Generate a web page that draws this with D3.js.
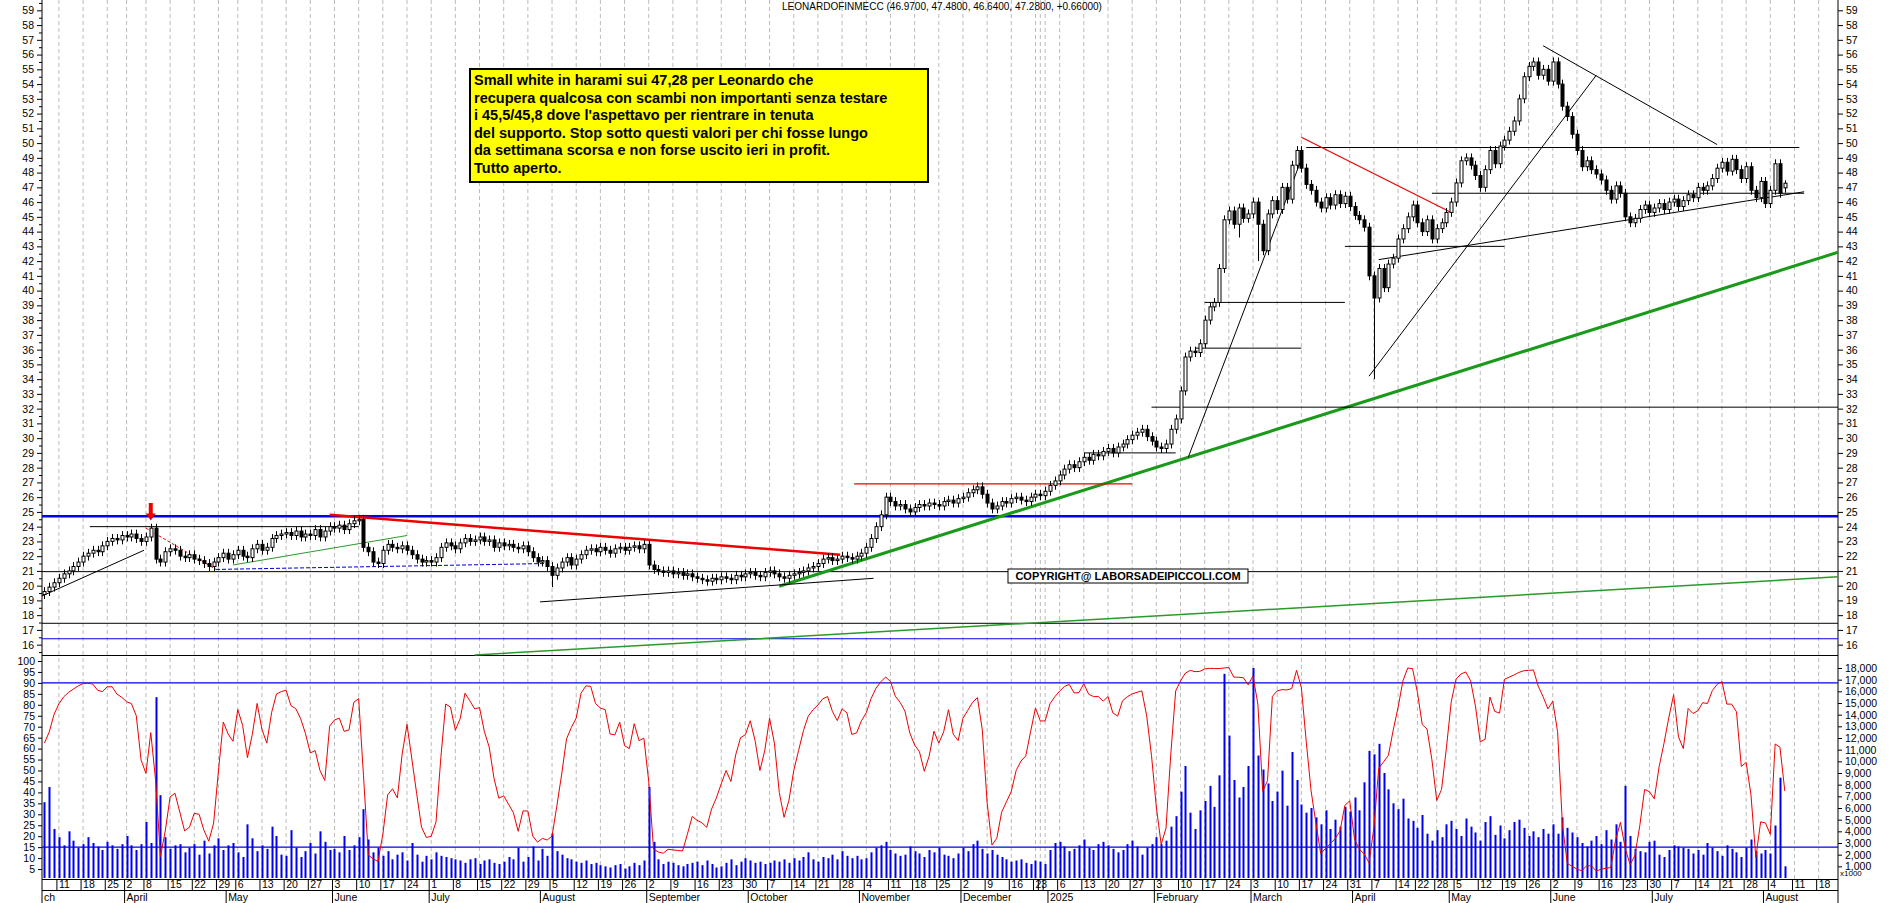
<!DOCTYPE html>
<html><head><meta charset="utf-8">
<script src="https://d3js.org/d3.v7.min.js"></script>
<style>body{margin:0;background:#fff}svg{display:block;font-family:Arial,"Liberation Sans",sans-serif}</style>
</head><body><svg id="c" width="1890" height="903"></svg>
<script>
const closeMar24=[19.6,19.9,20.2,20.5,20.8,21.0,21.3,21.6,22.0,22.2,22.4,22.3,22.7,23.0,23.2,23.1,23.4];
const closeApr24=[23.3,23.5,23.2,23.0,23.3,23.9,21.8,21.6,22.3,22.5,22.4,22.0,21.9,22.1,21.8,21.7,21.5,21.3,21.6,21.9,22.2];
const closeMay24=[21.8,22.1,22.4,22.0,21.9,22.5,22.8,22.4,22.6,23.2,23.4,23.5,23.6,23.4,23.7,23.3,23.5,23.4,23.8,23.3,23.7,24.0];
const closeJun24=[23.9,24.1,23.8,24.2,24.4,24.5,22.6,22.3,21.6,21.5,22.4,22.8,22.6,22.5,22.7,22.4,22.1,21.8,21.6,21.7];
const closeJul24=[21.6,21.9,22.6,22.9,22.7,22.5,22.9,23.2,23.0,23.1,23.3,23.0,23.1,22.6,22.9,22.7,22.8,22.6,22.5,22.7,22.3,21.9,21.6];
const closeAug24=[21.7,21.3,20.7,21.2,21.6,21.9,21.4,21.8,22.1,22.4,22.5,22.3,22.6,22.4,22.2,22.5,22.6,22.4,22.6,22.7,22.5,22.8];
const closeSep24=[21.4,21.1,21.0,20.9,21.0,20.8,20.9,20.7,20.8,20.6,20.5,20.4,20.3,20.5,20.4,20.6,20.5,20.4,20.7,20.6,20.8];
const closeOct24=[20.9,20.7,20.6,20.9,21.0,20.8,20.6,20.5,20.7,20.8,20.9,21.0,21.2,21.3,21.5,21.8,21.9,21.7,21.8,22.0,21.9,21.8,22.0];
const closeNov24=[22.2,22.6,23.2,24.0,24.8,26.0,25.7,25.4,25.5,25.2,25.0,25.3,25.5,25.4,25.6,25.5,25.4,25.7,25.8,25.6,25.9];
const closeDec24=[26.0,26.3,26.5,26.7,26.2,25.6,25.2,25.4,25.7,25.6,25.9,26.0,25.8,25.7,26.0,26.2,26.1,26.4];
const closeJan25=[26.8,27.1,27.5,27.9,28.2,28.0,28.4,28.7,28.5,28.9,28.8,29.1,29.3,29.0,29.4,29.6,29.9,30.2,30.4,30.6,30.1,29.8];
const closeFeb25=[29.4,29.3,29.6,30.6,31.3,33.2,35.5,35.9,35.8,36.4,38.0,38.9,39.2,41.5,44.8,45.4,44.5,45.6,44.9,45.2];
const closeMar25=[46.0,44.5,42.7,45.2,46.1,45.5,47.0,46.2,48.5,49.5,48.3,47.2,46.8,46.0,45.6,46.3,45.8,46.5,45.9,46.4,45.7];
const closeApr25=[45.1,44.8,44.3,41.0,39.5,41.5,40.2,41.8,42.2,43.5,44.2,45.0,45.8,44.6,44.0,44.8,43.5,44.2,44.6,45.3];
const closeMay25=[46.0,47.3,48.8,49.0,48.5,47.8,47.0,48.2,49.5,48.6,49.8,50.2,50.8,51.5,53.0,54.5,55.2,55.5,54.6,55.0,54.2];
const closeJun25=[55.5,54.0,52.5,51.8,50.6,49.5,48.4,48.8,48.2,47.9,47.5,46.8,46.2,47.1,46.6,45.0,44.6,44.9,45.5,45.8,45.3];
const closeJul25=[45.6,45.9,45.5,46.0,46.2,45.7,46.1,46.5,46.3,47.0,46.8,47.1,47.6,48.3,48.7,48.1,48.9,48.2,47.6,48.4,46.8,46.3,47.4];
const closeAug25=[45.9,46.8,48.6,46.6,47.28];

const volMar24=[6.5,7.8,4.2,3.5,2.8,4.0,3.2,2.6,2.9,3.5,3.0,2.7,2.4,3.1,2.8,2.5,2.9];
const volApr24=[3.6,2.8,2.4,2.9,4.8,3.0,15.5,7.1,3.5,2.5,2.8,2.9,2.2,2.6,2.9,2.0,3.2,2.1,2.8,3.4,2.4];
const volMay24=[2.8,3.0,2.2,1.8,4.6,3.4,2.3,2.8,2.5,4.4,3.6,2.0,1.9,4.1,2.6,1.8,2.3,3.0,2.1,4.0,3.1,2.4];
const volJun24=[2.5,2.2,3.6,2.4,2.8,3.5,5.9,3.3,2.2,2.6,1.9,2.3,1.6,2.0,2.2,1.5,3.0,2.0,1.4,1.9];
const volJul24=[1.6,2.2,1.9,1.8,1.7,1.6,1.5,1.3,1.6,1.7,1.2,1.5,1.6,1.3,1.2,1.4,1.8,1.6,2.6,1.4,1.8,2.7,1.5];
const volAug24=[2.5,1.9,3.8,2.3,2.0,1.7,1.6,1.4,1.3,1.5,1.2,1.3,1.1,1.0,0.9,1.1,1.2,0.8,1.0,1.3,1.1,1.5];
const volSep24=[7.8,3.1,1.6,1.2,1.4,1.3,1.1,1.0,1.2,1.3,1.4,1.1,1.5,1.2,0.9,1.0,1.3,1.6,1.1,1.4,1.7];
const volOct24=[1.5,1.3,1.4,1.2,1.3,1.5,1.4,1.6,1.3,1.7,1.5,1.8,2.2,1.6,1.4,1.8,1.7,2.0,1.6,2.3,1.9,1.7,1.9];
const volNov24=[1.6,1.7,2.2,2.6,2.8,3.1,2.4,2.1,1.9,2.0,2.7,2.3,2.1,1.8,2.4,2.2,2.6,2.0,1.9,1.7,2.1];
const volDec24=[2.6,2.3,2.9,3.2,2.5,2.1,2.4,2.0,1.8,1.6,1.4,1.5,1.6,1.3,1.2,1.5,1.4,1.2];
const volJan25=[2.4,3.0,3.1,2.7,2.3,2.5,2.8,3.3,2.6,2.4,2.9,3.1,2.8,2.5,2.2,2.4,2.9,3.2,2.7,2.0,2.6,2.9];
const volFeb25=[3.5,2.9,3.2,4.4,5.3,7.4,9.6,5.6,4.2,5.8,6.6,7.9,6.1,8.8,17.5,12.2,8.4,6.9,7.8,9.6];
const volMar25=[18.0,10.5,9.3,8.1,6.6,7.4,9.2,6.2,10.8,8.4,6.3,5.6,6.0,5.2,4.6,5.8,4.2,5.0,4.4,6.1,5.7];
const volApr25=[6.9,5.8,8.2,10.9,10.6,11.5,9.0,7.6,6.4,5.9,6.8,5.1,4.9,4.3,5.4,3.8,3.2,4.1,3.5,4.6];
const volMay25=[4.9,4.2,3.6,5.1,4.4,3.9,3.2,4.8,5.3,3.7,4.5,3.4,4.1,4.8,5.0,4.3,3.6,4.0,3.5,4.2,3.8];
const volJun25=[4.6,3.8,5.2,4.3,3.9,3.5,3.0,2.7,3.2,3.6,2.9,4.1,3.3,4.6,3.1,7.9,3.6,2.5,2.3,2.2,3.1];
const volJul25=[3.2,2.0,1.8,2.4,2.8,2.7,2.6,2.5,2.1,2.4,2.0,3.0,2.6,2.3,1.9,2.8,2.5,2.2,1.8,2.6,3.3,2.3,2.1];
const volAug25=[2.4,2.1,4.5,8.6,1.0];

const holidays=["2024-03-29","2024-04-01","2024-05-01","2024-12-24","2024-12-25","2024-12-26","2024-12-31","2025-01-01","2025-04-18","2025-04-21","2025-05-01"];
const lowOverrides={"2025-04-07":34.0,"2025-03-04":42.0,"2024-08-05":19.9,"2025-02-26":43.6};
const monthNames=["January","February","March","April","May","June","July","August","September","October","November","December"];
const titleText="LEONARDOFINMECC (46.9700, 47.4800, 46.6400, 47.2800, +0.66000)";
const noteLines=["Small white in harami sui 47,28 per Leonardo che","recupera qualcosa con scambi non importanti senza testare","i 45,5/45,8 dove l'aspettavo per rientrare in tenuta","del supporto. Stop sotto questi valori per chi fosse lungo","da settimana scorsa e non forse uscito ieri in profit.","Tutto aperto."];
const trendLines=[
 [-0.5,24.7,371,24.7,"#0000ee",2.5,null],
 [-0.5,20.95,371,20.95,"#000",1,null],
 [-0.5,17.45,371,17.45,"#000",1,null],
 [-0.5,16.4,371,16.4,"#0000ee",1.2,null],
 [89,15.3,371,20.6,"#2a9a2a",1.5,null],
 [152,19.96,371,42.6,"#1a9a1a",3,null],
 [229,32.1,371,32.1,"#000",1,null],
 [240,39.2,269,39.2,"#000",1,null],
 [238,36.1,260,36.1,"#000",1,null],
 [269,43.0,302,43.0,"#000",1,null],
 [287,46.6,364,46.6,"#000",1,null],
 [261,49.7,363,49.7,"#000",1,null],
 [215,29.0,234,29.0,"#000",1,null],
 [236.6,28.7,260,48.9,"#000",1,null],
 [274,34.2,321,54.6,"#000",1,null],
 [310,56.6,346,49.9,"#000",1,null],
 [276,42.1,364,46.7,"#000",1,null],
 [260,50.4,291,45.3,"#e00",1.2,null],
 [167.5,26.9,225,26.9,"#e00",1.2,null],
 [59,24.8,164.6,22.1,"#e00",2.5,null],
 [-0.5,19.3,20.6,22.4,"#000",1,null],
 [9.4,24.0,65,24.0,"#000",1,null],
 [21,23.9,35.5,21.1,"#e00",1,"3,2"],
 [102.5,18.9,171.5,20.5,"#000",1,null],
 [35.5,21.1,103.7,21.5,"#0000cc",1,"4,2"],
 [39,21.4,75,23.4,"#2a9a2a",1,null]
];

const closes=[].concat(closeMar24,closeApr24,closeMay24,closeJun24,closeJul24,closeAug24,closeSep24,closeOct24,closeNov24,closeDec24,closeJan25,closeFeb25,closeMar25,closeApr25,closeMay25,closeJun25,closeJul25,closeAug25);
const vols=[].concat(volMar24,volApr24,volMay24,volJun24,volJul24,volAug24,volSep24,volOct24,volNov24,volDec24,volJan25,volFeb25,volMar25,volApr25,volMay25,volJun25,volJul25,volAug25);

const fmt=d3.timeFormat("%Y-%m-%d");
const days=[];
for(let d=new Date(2024,2,6);d<=new Date(2025,8,1);d=d3.timeDay.offset(d,1)){
  const wd=d.getDay(); if(wd===0||wd===6) continue;
  if(holidays.includes(fmt(d))) continue; days.push(new Date(d));
}
const N=closes.length;
const data=closes.map((c,i)=>{
  const o=i===0?19.4:closes[i-1];
  const key=fmt(days[i]);
  let lo=Math.min(o,c)-0.3, hi=Math.max(o,c)+0.3;
  if(lowOverrides[key]!==undefined) lo=lowOverrides[key];
  return {i,date:days[i],o,c,h:hi,l:lo,v:(vols[i]||0)*1000};
});
data[N-1].o=46.97;data[N-1].h=47.48;data[N-1].l=46.64;
const raw=data.map((d,i)=>{const w=data.slice(Math.max(0,i-7),i+1);const hh=d3.max(w,e=>e.h),ll=d3.min(w,e=>e.l);return (d.c-ll)/(hh-ll)*100;});
const osc=raw.map((r,i)=>d3.mean(raw.slice(Math.max(0,i-1),i+1)));

const svg=d3.select("#c");
const X0=42,X1=1838;
const x=d3.scaleLinear().domain([-0.5,371]).range([X0,X1]);
const y=d3.scaleLinear().domain([15.3,59.7]).range([655,0]);
const yo=d3.scaleLinear().domain([0,100]).range([880,661]);
const yv=d3.scaleLinear().domain([0,18000]).range([878,668]);

const weekStarts=[];
days.forEach((d,i)=>{ if(i>0 && x(i)<X1-2 && (d.getDay()<days[i-1].getDay()||d3.timeDay.count(days[i-1],d)>3)) weekStarts.push(i); });
const grid=svg.append("g");
weekStarts.forEach(i=>{grid.append("line").attr("x1",x(i)).attr("x2",x(i)).attr("y1",0).attr("y2",879).attr("stroke","#bbb").attr("stroke-dasharray","4,3");});

svg.append("line").attr("x1",X0).attr("x2",X1).attr("y1",655.5).attr("y2",655.5).attr("stroke","#000");
svg.append("line").attr("x1",X0).attr("x2",X1).attr("y1",879.5).attr("y2",879.5).attr("stroke","#000");
svg.append("line").attr("x1",X0).attr("x2",X0).attr("y1",0).attr("y2",903).attr("stroke","#000");
svg.append("line").attr("x1",X1).attr("x2",X1).attr("y1",0).attr("y2",903).attr("stroke","#000");
svg.append("line").attr("x1",X0).attr("x2",X1).attr("y1",890.5).attr("y2",890.5).attr("stroke","#000");

svg.append("g").attr("transform",`translate(${X0},0)`).call(d3.axisLeft(y).tickValues(d3.range(16,60)).tickFormat(d3.format("d")).tickSize(5));
svg.append("g").attr("transform",`translate(${X1},0)`).call(d3.axisRight(y).tickValues(d3.range(16,60)).tickFormat(d3.format("d")).tickSize(5));
svg.append("g").attr("transform",`translate(${X0},0)`).call(d3.axisLeft(y).tickValues(d3.range(15.5,59.6,1)).tickFormat("").tickSize(3));
svg.append("g").attr("transform",`translate(${X0},0)`).call(d3.axisLeft(yo).tickValues(d3.range(5,101,5)).tickSize(4));
svg.append("g").attr("transform",`translate(${X1},0)`).call(d3.axisRight(yv).tickValues(d3.range(1000,18001,1000)).tickSize(4));
svg.selectAll(".domain").remove();
svg.selectAll(".tick text").attr("font-size",10.5).attr("fill","#000");
svg.append("text").attr("x",X1+2).attr("y",876).attr("font-size",8).text("x1000");

const tl=svg.append("g");
trendLines.forEach(t=>{tl.append("line").attr("x1",x(t[0])).attr("y1",y(t[1])).attr("x2",x(t[2])).attr("y2",y(t[3])).attr("stroke",t[4]).attr("stroke-width",t[5]).attr("stroke-dasharray",t[6]);});

const cg=svg.append("g");
data.forEach(d=>{
  const cx=Math.round(x(d.i))+0.5;
  cg.append("line").attr("x1",cx).attr("x2",cx).attr("y1",y(d.h)).attr("y2",y(d.l)).attr("stroke","#000");
  const top=y(Math.max(d.o,d.c)),bot=y(Math.min(d.o,d.c));
  cg.append("rect").attr("x",cx-1.5).attr("y",top).attr("width",3).attr("height",Math.max(1,bot-top))
   .attr("fill",d.c>=d.o?"#fff":"#000").attr("stroke","#000").attr("stroke-width",1);
});
const ai=22;
svg.append("path").attr("d",`M${x(ai)-2},${y(25.6)} h4 v${y(24.9)-y(25.6)} h3 l-5,7 l-5,-7 h3 z`).attr("fill","#e00");

const vg=svg.append("g");
data.forEach(d=>{vg.append("rect").attr("x",Math.round(x(d.i))-0.5).attr("width",2).attr("y",yv(d.v)).attr("height",yv(0)-yv(d.v)).attr("fill","#0000ee");});
[90,15].forEach(v=>svg.append("line").attr("x1",X0).attr("x2",X1).attr("y1",yo(v)).attr("y2",yo(v)).attr("stroke","#0000ee").attr("stroke-width",1.2));
svg.append("path").datum(osc).attr("fill","none").attr("stroke","#e00").attr("stroke-width",1)
  .attr("d",d3.line().x((v,i)=>x(i)).y(v=>yo(v)));

const dg=svg.append("g").attr("font-size",10.5);
let lastLab=-100;
weekStarts.forEach(i=>{dg.append("line").attr("x1",x(i)-2).attr("x2",x(i)-2).attr("y1",879).attr("y2",890).attr("stroke","#000");
  if(x(i)-lastLab>14){dg.append("text").attr("x",x(i)).attr("y",888).text(days[i].getDate()); lastLab=x(i);}});
days.forEach((d,i)=>{ if(i>0 && d.getMonth()!==days[i-1].getMonth() && x(i)<X1-20){
  dg.append("line").attr("x1",x(i)-2).attr("x2",x(i)-2).attr("y1",890).attr("y2",903).attr("stroke","#000");
  const name=(d.getMonth()===0)?String(d.getFullYear()):monthNames[d.getMonth()];
  dg.append("text").attr("x",x(i)).attr("y",901).text(name);}});
dg.append("text").attr("x",X0+2).attr("y",901).text("ch");

svg.append("text").attr("x",942).attr("y",10).attr("text-anchor","middle").attr("font-size",10).text(titleText);
const nb=svg.append("g");
nb.append("rect").attr("x",470).attr("y",69).attr("width",458).attr("height",113).attr("fill","#ffff00").attr("stroke","#000").attr("stroke-width",2);
noteLines.forEach((t,k)=>nb.append("text").attr("x",474).attr("y",85+k*17.5).attr("font-size",14.5).attr("font-weight","bold").text(t));
svg.append("rect").attr("x",1008).attr("y",569).attr("width",240).attr("height",14).attr("fill","#fff").attr("stroke","#000");
svg.append("text").attr("x",1128).attr("y",580).attr("text-anchor","middle").attr("font-size",11).attr("font-weight","bold").text("COPYRIGHT@ LABORSADEIPICCOLI.COM");
</script></body></html>
